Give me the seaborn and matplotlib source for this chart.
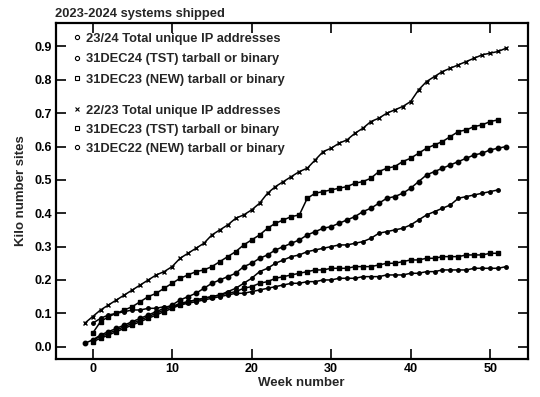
import matplotlib
matplotlib.use("Agg")
import matplotlib.pyplot as plt
from matplotlib.lines import Line2D
import seaborn as sns
import pandas as pd

# Dane (kilo liczba instalacji vs tydzien)
weeks_2223_total = list(range(-1, 53))
vals_2223_total = [0.07, 0.09, 0.11, 0.125, 0.14, 0.155, 0.17, 0.185, 0.20, 0.215,
                   0.225, 0.24, 0.265, 0.28, 0.295, 0.31, 0.335, 0.35, 0.365, 0.385,
                   0.395, 0.41, 0.43, 0.46, 0.48, 0.495, 0.51, 0.525, 0.535, 0.56,
                   0.585, 0.595, 0.61, 0.62, 0.64, 0.655, 0.675, 0.685, 0.70, 0.71,
                   0.72, 0.735, 0.77, 0.795, 0.81, 0.825, 0.835, 0.845, 0.855, 0.865,
                   0.875, 0.88, 0.885, 0.895]

weeks_dec23_tst = list(range(0, 52))
vals_dec23_tst = [0.04, 0.075, 0.09, 0.10, 0.11, 0.12, 0.135, 0.15, 0.16, 0.175,
                  0.19, 0.205, 0.215, 0.225, 0.23, 0.24, 0.255, 0.27, 0.285, 0.305,
                  0.32, 0.335, 0.355, 0.37, 0.38, 0.39, 0.395, 0.445, 0.46, 0.465,
                  0.47, 0.475, 0.48, 0.49, 0.495, 0.505, 0.525, 0.535, 0.54, 0.555,
                  0.565, 0.58, 0.595, 0.605, 0.615, 0.63, 0.645, 0.65, 0.66, 0.665,
                  0.675, 0.68]

weeks_dec22_new = list(range(-1, 53))
vals_dec22_new = [0.01, 0.02, 0.035, 0.045, 0.055, 0.065, 0.075, 0.085, 0.095, 0.105,
                  0.115, 0.125, 0.14, 0.15, 0.16, 0.175, 0.19, 0.20, 0.21, 0.22,
                  0.24, 0.25, 0.265, 0.275, 0.29, 0.30, 0.31, 0.32, 0.335, 0.345,
                  0.355, 0.36, 0.37, 0.38, 0.39, 0.405, 0.415, 0.43, 0.445, 0.45,
                  0.46, 0.475, 0.495, 0.515, 0.525, 0.535, 0.545, 0.555, 0.565, 0.575,
                  0.58, 0.59, 0.595, 0.60]

weeks_2324_total = list(range(0, 52))
vals_2324_total = [0.02, 0.03, 0.04, 0.05, 0.06, 0.07, 0.08, 0.09, 0.10, 0.11,
                   0.12, 0.13, 0.135, 0.14, 0.145, 0.15, 0.155, 0.165, 0.175, 0.19,
                   0.205, 0.225, 0.235, 0.25, 0.26, 0.27, 0.275, 0.285, 0.29, 0.295,
                   0.30, 0.305, 0.305, 0.31, 0.315, 0.325, 0.34, 0.345, 0.35, 0.355,
                   0.365, 0.38, 0.395, 0.405, 0.415, 0.425, 0.445, 0.45, 0.455, 0.46,
                   0.465, 0.47]

weeks_dec23_new = list(range(0, 52))
vals_dec23_new = [0.015, 0.025, 0.035, 0.045, 0.055, 0.065, 0.075, 0.085, 0.095, 0.105,
                  0.115, 0.125, 0.135, 0.14, 0.145, 0.15, 0.155, 0.16, 0.165, 0.175,
                  0.18, 0.19, 0.195, 0.205, 0.21, 0.215, 0.22, 0.225, 0.23, 0.23,
                  0.235, 0.235, 0.235, 0.24, 0.24, 0.24, 0.245, 0.25, 0.25, 0.255,
                  0.26, 0.26, 0.265, 0.265, 0.27, 0.27, 0.27, 0.275, 0.275, 0.275,
                  0.28, 0.28]

weeks_dec24_tst = list(range(0, 53))
vals_dec24_tst = [0.07, 0.085, 0.095, 0.10, 0.105, 0.11, 0.11, 0.115, 0.115, 0.12,
                  0.12, 0.125, 0.13, 0.135, 0.14, 0.145, 0.15, 0.155, 0.16, 0.16,
                  0.165, 0.17, 0.175, 0.18, 0.185, 0.19, 0.19, 0.195, 0.195, 0.20,
                  0.20, 0.205, 0.205, 0.205, 0.21, 0.21, 0.21, 0.215, 0.215, 0.215,
                  0.22, 0.22, 0.225, 0.225, 0.23, 0.23, 0.23, 0.23, 0.235, 0.235,
                  0.235, 0.235, 0.24]

labels_top = ['23/24 Total unique IP addresses',
              '31DEC24 (TST) tarball or binary',
              '31DEC23 (NEW) tarball or binary']
labels_bottom = ['22/23 Total unique IP addresses',
                 '31DEC23 (TST) tarball or binary',
                 '31DEC22 (NEW) tarball or binary']

sns.set_style('ticks')
plt.rcParams['font.family'] = ['Liberation Sans', 'DejaVu Sans']
plt.rcParams['font.weight'] = 'bold'
plt.rcParams['axes.labelweight'] = 'bold'

fig = plt.figure(figsize=(5.4, 3.97), dpi=100)
ax = fig.add_axes([0.1037, 0.0957, 0.874, 0.846])

series = [
    (weeks_2223_total, vals_2223_total, 'x', 3.5),
    (weeks_dec23_tst, vals_dec23_tst, 's', 2.5),
    (weeks_dec22_new, vals_dec22_new, 'o', 3.2),
    (weeks_2324_total, vals_2324_total, 'o', 2.5),
    (weeks_dec23_new, vals_dec23_new, 's', 3.0),
    (weeks_dec24_tst, vals_dec24_tst, 'o', 2.5),
]
for wk, val, mk, ms in series:
    df = pd.DataFrame({'week': wk, 'value': val})
    sns.lineplot(data=df, x='week', y='value', ax=ax, color='black', lw=1.1,
                 marker=mk, markersize=ms, markeredgecolor='black',
                 markeredgewidth=1.0, estimator=None, sort=False, legend=False)

ax.set_xlim(-4.6, 54.75)
ax.set_ylim(-0.037, 0.97)
ax.set_xticks([0, 10, 20, 30, 40, 50])
ax.set_yticks([0.0, 0.1, 0.2, 0.3, 0.4, 0.5, 0.6, 0.7, 0.8, 0.9])
ax.yaxis.set_major_formatter(matplotlib.ticker.FormatStrFormatter('%.1f'))
ax.tick_params(direction='in', length=7, width=1.2, top=True, right=True,
               labeltop=False, labelright=False, labelsize=9, pad=3,
               colors='black')
for sp in ax.spines.values():
    sp.set_visible(True)
    sp.set_linewidth(1.6)
    sp.set_color('black')

ax.set_xlabel('Week number', fontsize=9.5, labelpad=1)
ax.xaxis.set_label_coords(0.52, -0.055)
ax.set_ylabel('Kilo number sites', fontsize=9.5, labelpad=5)
fig.text(0.102, 1 - 14 / 397, '2023-2024 systems shipped', fontsize=9.3,
         fontweight='bold', va='center', ha='left')

def handle(mk):
    return Line2D([], [], ls='none', marker=mk, markersize=3,
                  markerfacecolor='white', markeredgecolor='black',
                  markeredgewidth=0.8)

leg1 = ax.legend([handle('o'), handle('o'), handle('s')], labels_top,
                 loc='upper left', bbox_to_anchor=(0.035, 0.972), frameon=False,
                 fontsize=9.3, handlelength=0.75, handletextpad=0.3,
                 labelspacing=0.66, borderpad=0, borderaxespad=0)
ax.add_artist(leg1)
ax.legend([handle('x'), handle('s'), handle('o')], labels_bottom,
          loc='upper left', bbox_to_anchor=(0.035, 0.757), frameon=False,
          fontsize=9.3, handlelength=0.75, handletextpad=0.3,
          labelspacing=0.53, borderpad=0, borderaxespad=0)

fig.savefig('out.png', dpi=100)
